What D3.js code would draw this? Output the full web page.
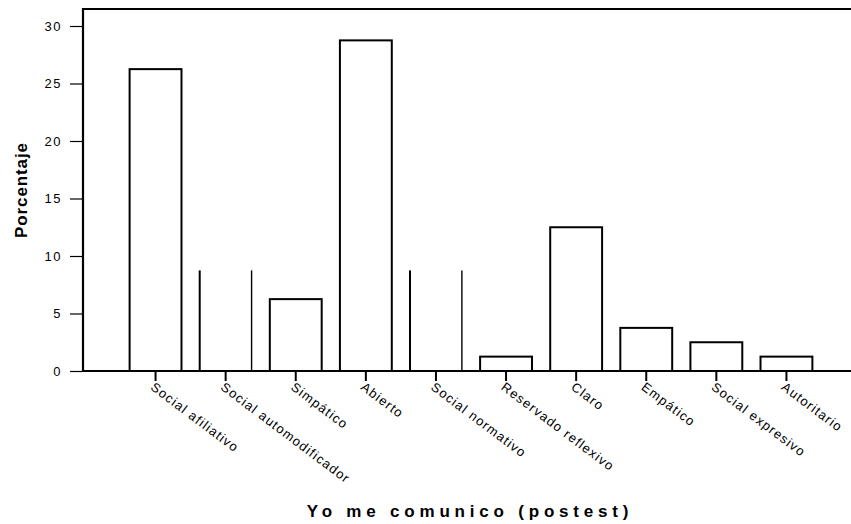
<!DOCTYPE html>
<html lang="es">
<head>
<meta charset="UTF-8">
<title>Yo me comunico (postest)</title>
<script src="https://cdn.jsdelivr.net/npm/d3@7"></script>
<style>
    body{margin:0;background:#fff;}
    svg{display:block;font-family:"Liberation Sans",Arial,sans-serif;}
    .axis .domain{display:none;}
</style>
</head>
<body>
<svg width="851" height="524"></svg>
<script>
    // datos (porcentajes)
    var categorias = ["Social afiliativo", "Social automodificador", "Simpático", "Abierto",
                      "Social normativo", "Reservado reflexivo", "Claro", "Empático",
                      "Social expresivo", "Autoritario"];
    var porcentajes = [26.25, 8.75, 6.25, 28.75, 8.75, 1.25, 12.5, 3.75, 2.5, 1.25];
    var ticksY = [0, 5, 10, 15, 20, 25, 30];
    // barras que salen sin tapa (solo los lados)
    var sinTapa = ["Social automodificador", "Social normativo"];

    var data = categorias.map(function(c, i){ return {cat: c, val: porcentajes[i]}; });

    var svg = d3.select('svg'),
        x0 = 83, yBase = 371, yTop = 9;

    var x = d3.scaleBand()
        .domain(categorias)
        .range([120.5, 821.5])
        .paddingInner(0.26)
        .paddingOuter(0.13);
    var y = d3.scaleLinear()
        .domain([0, 30])
        .range([yBase, 26]);

    // marco: eje y + línea superior + eje x
    svg.append('path')
        .attr('d', 'M' + 851 + ',' + yTop + 'H' + x0 + 'V' + yBase + 'H' + 851)
        .attr('fill', 'none')
        .attr('stroke', '#000')
        .attr('stroke-width', 2.2);

    // eje y
    var gy = svg.append('g')
        .attr('class', 'axis')
        .attr('transform', 'translate(' + (x0 - 1) + ',0)')
        .call(d3.axisLeft(y).tickValues(ticksY).tickSize(12).tickPadding(8));
    gy.selectAll('.tick line').attr('stroke', '#000').attr('stroke-width', 1.2);
    gy.selectAll('.tick text')
        .attr('fill', '#000')
        .attr('font-size', 13)
        .attr('letter-spacing', 1.5)
        .attr('font-family', '"Liberation Sans",Arial,sans-serif');

    // barras
    var cerradas = data.filter(function(d){ return sinTapa.indexOf(d.cat) < 0; });
    var abiertas = data.filter(function(d){ return sinTapa.indexOf(d.cat) >= 0; });

    svg.append('g').selectAll('rect')
        .data(cerradas)
        .enter().append('rect')
        .attr('x', function(d){ return x(d.cat); })
        .attr('y', function(d){ return y(d.val); })
        .attr('width', x.bandwidth())
        .attr('height', function(d){ return y(0) - y(d.val); })
        .attr('fill', '#fff')
        .attr('stroke', '#000')
        .attr('stroke-width', 2);

    var lados = svg.append('g').selectAll('g')
        .data(abiertas)
        .enter().append('g');
    lados.append('line')
        .attr('x1', function(d){ return x(d.cat); })
        .attr('x2', function(d){ return x(d.cat); })
        .attr('y1', function(d){ return y(d.val); })
        .attr('y2', y(0))
        .attr('stroke', '#000').attr('stroke-width', 2);
    lados.append('line')
        .attr('x1', function(d){ return x(d.cat) + x.bandwidth(); })
        .attr('x2', function(d){ return x(d.cat) + x.bandwidth(); })
        .attr('y1', function(d){ return y(d.val); })
        .attr('y2', y(0))
        .attr('stroke', '#000').attr('stroke-width', 1.4);

    // eje x
    var gx = svg.append('g')
        .attr('class', 'axis')
        .attr('transform', 'translate(0,' + (yBase + 1) + ')')
        .call(d3.axisBottom(x).tickSize(9).tickSizeOuter(0));
    gx.selectAll('.tick line').attr('stroke', '#000').attr('stroke-width', 2);
    gx.selectAll('.tick text')
        .attr('fill', '#000')
        .attr('font-size', 13)
        .attr('letter-spacing', 1.2)
        .attr('font-family', '"Liberation Sans",Arial,sans-serif')
        .attr('text-anchor', 'start')
        .attr('x', 0).attr('y', 0).attr('dy', '0.75em')
        .attr('transform', 'translate(0,9) rotate(37)');

    // títulos
    svg.append('text')
        .attr('transform', 'translate(27,190) rotate(-90)')
        .attr('text-anchor', 'middle')
        .attr('font-size', 17)
        .attr('font-weight', 'bold')
        .attr('letter-spacing', 0.9)
        .text('Porcentaje');

    svg.append('text')
        .attr('x', 470)
        .attr('y', 517)
        .attr('text-anchor', 'middle')
        .attr('font-size', 17)
        .attr('font-weight', 'bold')
        .attr('letter-spacing', 4.8)
        .text('Yo me comunico (postest)');
</script>
</body>
</html>
